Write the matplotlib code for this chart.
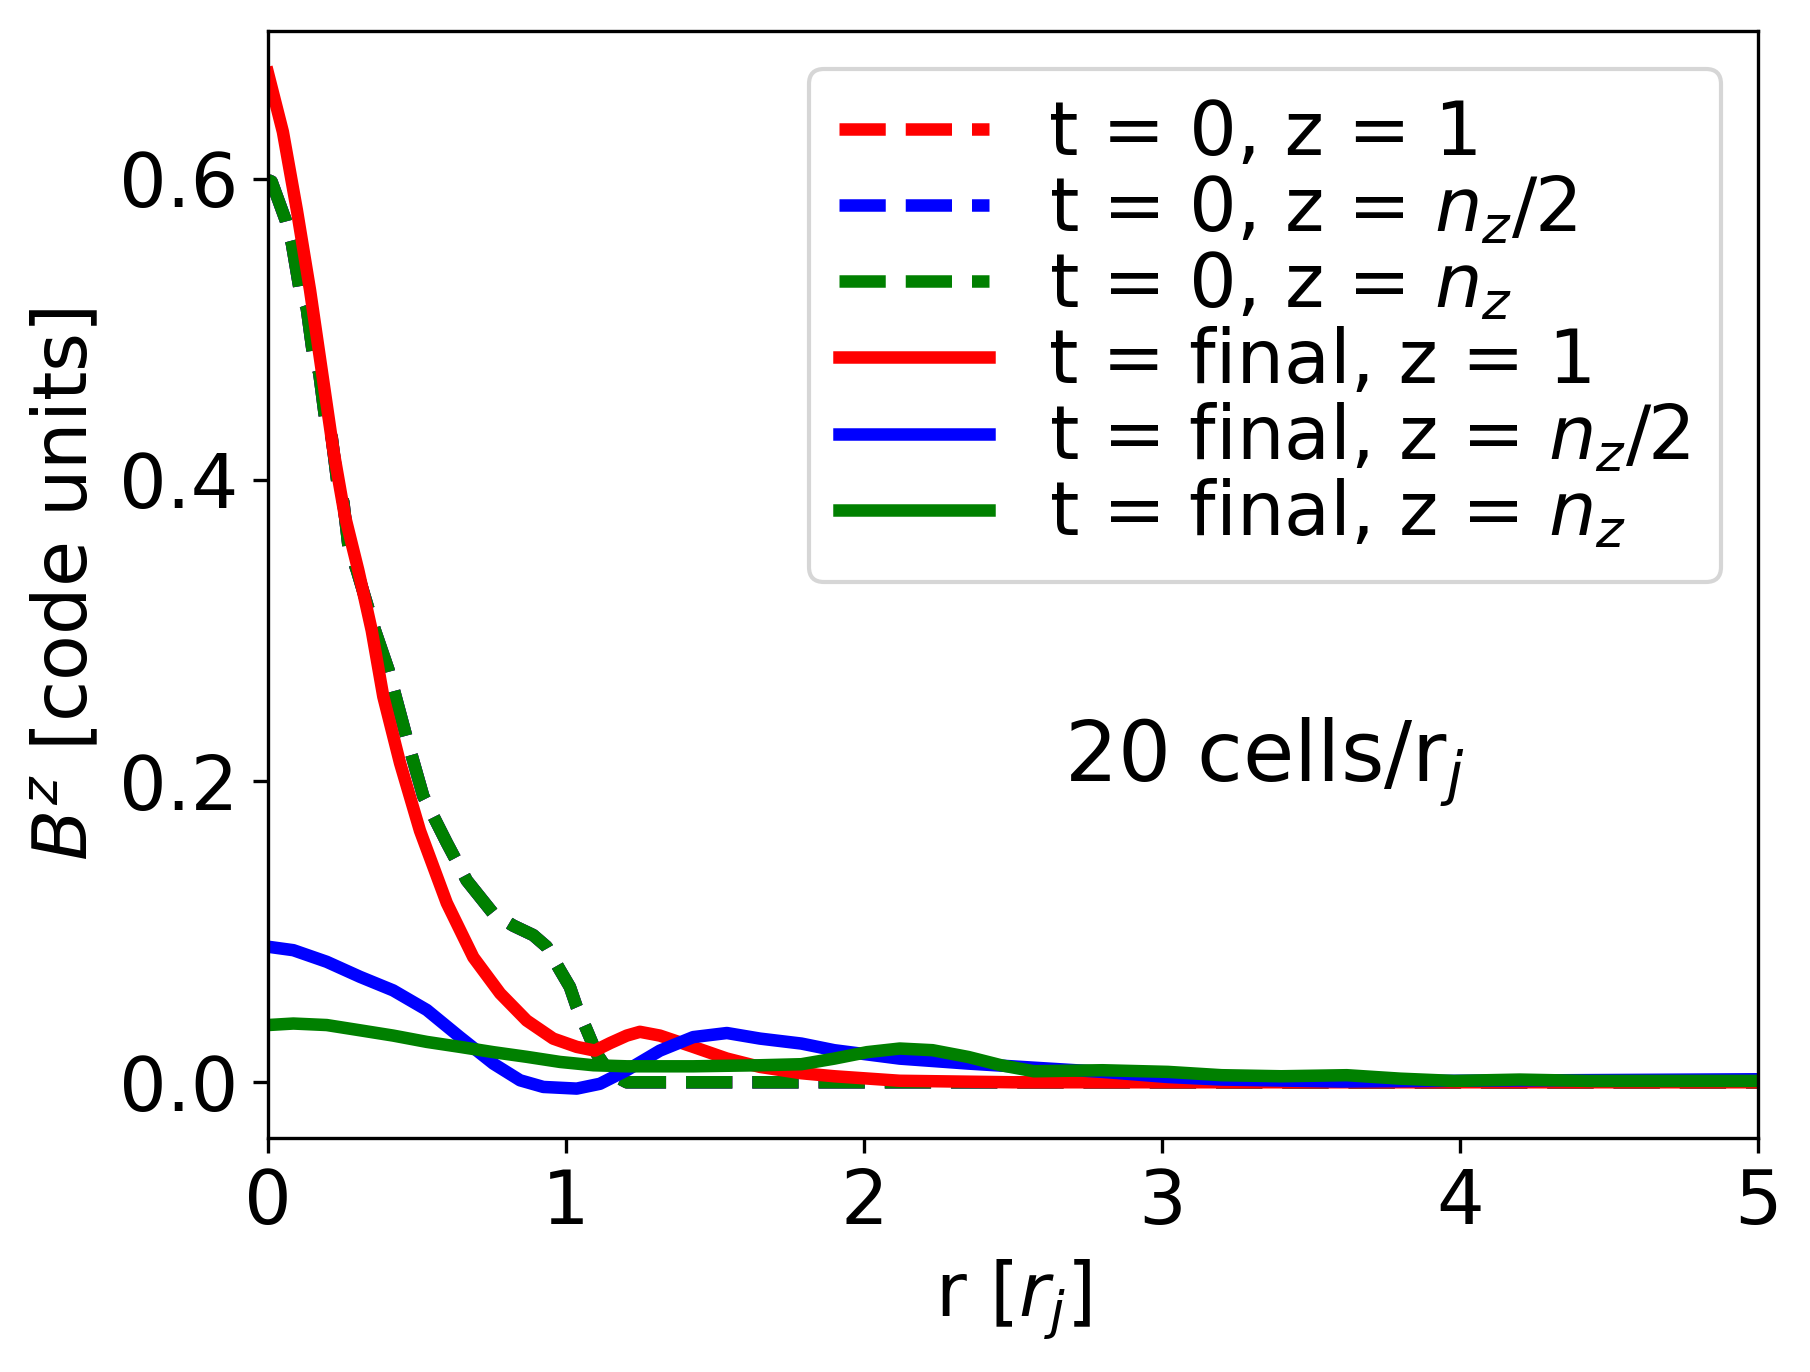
import numpy as np
import matplotlib
matplotlib.use("Agg")
import matplotlib.pyplot as plt

# initial profile (t = 0), identical at all heights
r_init = [0.0, 0.012, 0.06, 0.08, 0.105, 0.13, 0.15, 0.172, 0.191, 0.214, 0.233,
          0.253, 0.27, 0.298, 0.359, 0.404, 0.465, 0.521, 0.60, 0.667, 0.756,
          0.823, 0.89, 0.935, 0.98, 1.013, 1.036, 1.07, 1.103, 1.148, 1.204,
          1.5, 2.0, 3.0, 4.0, 5.0]
b_init = [0.599, 0.598, 0.572, 0.557, 0.528, 0.514, 0.485, 0.471, 0.442, 0.428, 0.398,
          0.385, 0.356, 0.340, 0.300, 0.274, 0.229, 0.190, 0.159, 0.134, 0.112,
          0.104, 0.0977, 0.090, 0.0744, 0.0633, 0.050, 0.0346, 0.019, 0.0058, 0.0,
          0.0, 0.0, 0.0, 0.0, 0.0]

# final profile, z = 1
r_fin_1 = [0.0, 0.05, 0.097, 0.141, 0.18, 0.219, 0.258, 0.303, 0.348, 0.387, 0.443,
           0.51, 0.60, 0.689, 0.779, 0.868, 0.957, 1.036, 1.097, 1.148, 1.204,
           1.248, 1.315, 1.427, 1.539, 1.651, 1.79, 1.9, 2.12, 2.5, 3.0, 3.5,
           4.0, 4.5, 5.0]
b_fin_1 = [0.670, 0.631, 0.579, 0.526, 0.473, 0.42, 0.376, 0.340, 0.300, 0.256, 0.212,
           0.167, 0.119, 0.083, 0.059, 0.041, 0.029, 0.0235, 0.021, 0.026, 0.031,
           0.0335, 0.031, 0.0235, 0.0158, 0.0102, 0.006, 0.004, 0.001, 0.0, 0.0, 0.0,
           0.0, 0.0, 0.0]

# final profile, z = n_z/2
r_fin_half = [0.0, 0.085, 0.197, 0.309, 0.42, 0.533, 0.644, 0.756, 0.846, 0.924,
              1.036, 1.114, 1.204, 1.315, 1.427, 1.54, 1.651, 1.79, 1.9, 2.12,
              2.35, 2.57, 2.8, 3.02, 3.2, 3.6, 4.0, 4.5, 5.0]
b_fin_half = [0.090, 0.0877, 0.080, 0.070, 0.061, 0.048, 0.030, 0.0124, 0.0013, -0.0031,
              -0.0042, -0.001, 0.008, 0.021, 0.030, 0.0327, 0.029, 0.0257, 0.0213, 0.0157,
              0.0124, 0.0097, 0.0069, 0.0035, 0.0018, 0.0005, 0.001, 0.0015, 0.002]

# final profile, z = n_z
r_fin_top = [0.0, 0.085, 0.197, 0.309, 0.42, 0.533, 0.644, 0.756, 0.868, 0.98,
             1.092, 1.204, 1.427, 1.651, 1.79, 1.9, 2.01, 2.12, 2.23, 2.35, 2.46,
             2.57, 2.8, 3.02, 3.2, 3.4, 3.62, 3.8, 3.98, 4.2, 4.43, 5.0]
b_fin_top = [0.038, 0.039, 0.038, 0.0345, 0.031, 0.0268, 0.0235, 0.020, 0.0169, 0.0135,
             0.0113, 0.0106, 0.0106, 0.0113, 0.012, 0.0157, 0.020, 0.0224, 0.0213, 0.0168, 0.0113,
             0.0073, 0.008, 0.0069, 0.0047, 0.004, 0.0047, 0.0024, 0.0009, 0.0018, 0.0009, 0.0009]

fig = plt.figure(figsize=(1810 / 300, 1372 / 300), dpi=300)
ax = fig.add_subplot(111)
fig.subplots_adjust(left=268 / 1810, right=1758 / 1810, bottom=1 - 1138 / 1372, top=1 - 31 / 1372)

lw = 3
ax.plot(r_init, b_init, 'r--', lw=lw, label='t = 0, z = 1')
ax.plot(r_init, b_init, 'b--', lw=lw, label='t = 0, z = $n_z/2$')
ax.plot(r_init, b_init, 'g--', lw=lw, label='t = 0, z = $n_z$')
ax.plot(r_fin_1, b_fin_1, 'r-', lw=lw, label='t = final, z = 1')
ax.plot(r_fin_half, b_fin_half, 'b-', lw=lw, label='t = final, z = $n_z/2$')
ax.plot(r_fin_top, b_fin_top, 'g-', lw=lw, label='t = final, z = $n_z$')

ax.set_xlim(0, 5)
ax.set_ylim(-0.037, 0.698)
ax.set_xticks([0, 1, 2, 3, 4, 5])
ax.set_yticks([0.0, 0.2, 0.4, 0.6])
ax.tick_params(labelsize=18)
ax.set_xlabel('r [$r_j$]', fontsize=18)
ax.set_ylabel('$B^z$ [code units]', fontsize=18)
ax.text(2.67, 0.2, '20 cells/r$_j$', fontsize=20)
ax.legend(fontsize=18, labelspacing=0.04)

fig.savefig('out.png', dpi=300)
